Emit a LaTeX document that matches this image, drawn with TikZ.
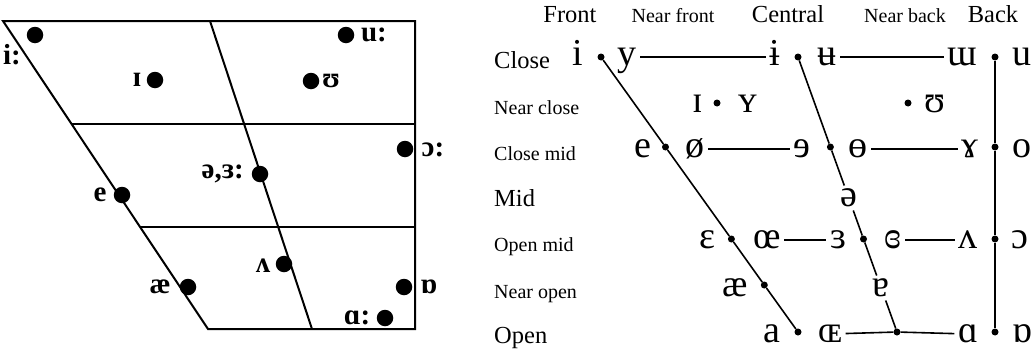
\documentclass[tikz,border=0pt]{standalone}
\usepackage{fontspec}
\setmainfont{Liberation Serif}
\begin{document}
\begin{tikzpicture}[x=1pt,y=-1pt,
  ldot/.style={circle,fill=black,inner sep=0pt,minimum size=16.5pt},
  llab/.style={font=\fontsize{29}{31}\selectfont\bfseries,inner sep=0pt},
  lline/.style={line width=2pt},
  rdot/.style={circle,fill=black,inner sep=0pt,minimum size=7pt},
  ipa/.style={font=\fontsize{38}{40}\selectfont,text height=17.5pt,text depth=0pt,inner sep=3.5pt},
  bighead/.style={font=\fontsize{24.5}{26}\selectfont,anchor=base,inner sep=0pt},
  smallhead/.style={font=\fontsize{20}{22}\selectfont,anchor=base,inner sep=0pt},
  bigrow/.style={font=\fontsize{24.5}{26}\selectfont,anchor=base west,inner sep=0pt},
  smallrow/.style={font=\fontsize{20}{22}\selectfont,anchor=base west,inner sep=0pt},
  conn/.style={line width=1.6pt}]
\useasboundingbox (0,0) rectangle (1033,351);
% ---------------- left chart ----------------
\coordinate (TL) at (3,21);
\coordinate (TM) at (210,21);
\coordinate (TR) at (415,21);
\coordinate (BL) at (208,329);
\coordinate (BM) at (312,329);
\coordinate (BR) at (415,329);
\coordinate (H1L) at (71.6,124);
\coordinate (H1R) at (415,124);
\coordinate (H2L) at (140.1,227);
\coordinate (H2R) at (415,227);
\draw[lline,line join=miter] (TL) -- (TR) -- (BR) -- (BL) -- cycle;
\draw[lline] (TM) -- (BM);
\draw[lline] (H1L) -- (H1R);
\draw[lline] (H2L) -- (H2R);
\node[ldot] (Li) at (35,35) {};
\node[llab] (Lit) at (12,55) {i:};
\node[ldot] (LI) at (155,80) {};
\node[llab] (LIt) at (137,80) {ɪ};
\node[ldot] (Lu) at (346,35) {};
\node[llab] (Lut) at (374,35) {u:};
\node[ldot] (LU) at (311,81) {};
\node[llab] (LUt) at (331,81) {ʊ};
\node[ldot] (Lo) at (405,149) {};
\node[llab] (Lot) at (433,150) {ɔ:};
\node[ldot] (Lschwa) at (260,174) {};
\node[llab,anchor=east] (Lschwat) at (244,174) {ə,ɜ:};
\node[ldot] (Le) at (122,195) {};
\node[llab] (Let) at (100,195) {e};
\node[ldot] (Lv) at (284,264) {};
\node[llab] (Lvt) at (263,266) {ʌ};
\node[ldot] (Lae) at (188,287) {};
\node[llab] (Laet) at (160,287) {æ};
\node[ldot] (Lrot) at (404,287) {};
\node[llab] (Lrott) at (429,287) {ɒ};
\node[ldot] (La) at (385,318) {};
\node[llab] (Lat) at (357,318) {ɑ:};
% ---------------- right chart ----------------
% headers
\node[bighead] (hF) at (570,22) {Front};
\node[smallhead] (hNF) at (673,22) {Near front};
\node[bighead] (hC) at (788,22) {Central};
\node[smallhead] (hNB) at (905,22) {Near back};
\node[bighead] (hB) at (993,22) {Back};
% row labels
\node[bigrow] (rC) at (494,68) {Close};
\node[smallrow] (rNC) at (494,114) {Near close};
\node[smallrow] (rCM) at (494,160) {Close mid};
\node[bigrow] (rM) at (494,206) {Mid};
\node[smallrow] (rOM) at (494,251) {Open mid};
\node[smallrow] (rNO) at (494,298) {Near open};
\node[bigrow] (rO) at (494,343) {Open};
% dots
\node[rdot] (f1) at (601,57) {};
\node[rdot] (f2) at (665.5,147) {};
\node[rdot] (f3) at (731.4,239) {};
\node[rdot] (f4) at (764.3,285) {};
\node[rdot] (f5) at (798,332) {};
\node[rdot] (c1) at (798,57) {};
\node[rdot] (c2) at (830.4,147) {};
\node[rdot] (c3) at (863.5,239) {};
\node[rdot] (c5) at (897,332) {};
\node[rdot] (b1) at (995,57) {};
\node[rdot] (b2) at (995,147) {};
\node[rdot] (b3) at (995,239) {};
\node[rdot] (b4) at (995,332) {};
\node[rdot] (n1) at (717,103) {};
\node[rdot] (n2) at (908,103) {};
% vowels: close
\node[ipa] (vi) at (578,57) {i};
\node[ipa] (vy) at (627,57) {y};
\node[ipa] (vib) at (775,57) {ɨ};
\node[ipa] (vub) at (827,57) {ʉ};
\node[ipa] (vw) at (962,57) {ɯ};
\node[ipa] (vu) at (1022,57) {u};
% near close
\node[ipa] (vI) at (698,104) {ɪ};
\node[ipa] (vY) at (748,104) {ʏ};
\node[ipa] (vU) at (935,104) {ʊ};
% close mid
\node[ipa] (ve) at (643,149) {e};
\node[ipa] (vo2) at (695,149) {ø};
\node[ipa] (vre) at (802,149) {ɘ};
\node[ipa] (vob) at (858,149) {ɵ};
\node[ipa] (vrh) at (970,149) {ɤ};
\node[ipa] (vo) at (1022,149) {o};
% mid
\node[ipa] (vschwa) at (848.8,198) {ə};
% open mid
\node[ipa] (veps) at (707,240) {ɛ};
\node[ipa] (voe) at (767,240) {œ};
\node[ipa] (vreps) at (838,240) {ɜ};
\node[ipa] (vceps) at (893,240) {ɞ};
\node[ipa] (vv) at (968,240) {ʌ};
\node[ipa] (voo) at (1020,240) {ɔ};
% near open
\node[ipa] (vae) at (735,288) {æ};
\node[ipa] (vta) at (881.2,288) {ɐ};
% open
\node[ipa] (va) at (772,334) {a};
\node[ipa] (vOE) at (830,334) {ɶ};
\node[ipa] (valpha) at (968,334) {ɑ};
\node[ipa] (vrot) at (1022,334) {ɒ};
% connectors
\draw[conn] (f1) -- (f2) -- (f3) -- (f4) -- (f5);
\draw[conn] (c1) -- (c2) -- (vschwa) -- (c3) -- (vta) -- (c5);
\draw[conn] (b1) -- (b2) -- (b3) -- (b4);
\draw[conn] (vy) -- (vib);
\draw[conn] (vub) -- (vw);
\draw[conn] (vo2) -- (vre);
\draw[conn] (vob) -- (vrh);
\draw[conn] (voe) -- (vreps);
\draw[conn] (vceps) -- (vv);
\draw[conn] (vOE) -- (c5) -- (valpha);
\end{tikzpicture}
\end{document}
